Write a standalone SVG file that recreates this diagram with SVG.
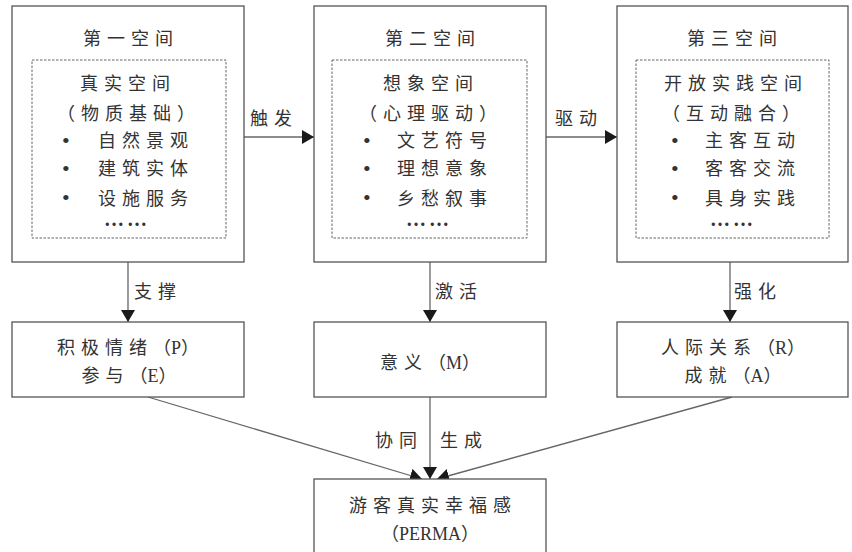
<svg xmlns="http://www.w3.org/2000/svg" width="852" height="552" viewBox="0 0 852 552">
<style>
text{font-family:"Liberation Serif","Noto Sans CJK SC",serif;font-size:18px;fill:#333;letter-spacing:6px}
.c{text-anchor:middle}
.n{letter-spacing:0}
.b{font-size:22px;letter-spacing:0}
.d{letter-spacing:3px;font-size:20px;font-weight:bold}
.box{fill:#fff;stroke:#555;stroke-width:1.3}
.dash{fill:none;stroke:#666;stroke-width:1;stroke-dasharray:2.5 1.5}
.ln{stroke:#666;stroke-width:1.3;fill:none}
</style>
<defs>
<marker id="ah" markerUnits="userSpaceOnUse" markerWidth="14" markerHeight="14" refX="12" refY="7" orient="auto">
<path d="M0,0 L12,7 L0,14 Z" fill="#1a1a1a"/>
</marker>
</defs>
<g id="connectors">
<line class="ln" x1="244" y1="137" x2="314" y2="137" marker-end="url(#ah)"/>
<line class="ln" x1="546" y1="137" x2="617" y2="137" marker-end="url(#ah)"/>
<line class="ln" x1="128" y1="262" x2="128" y2="322" marker-end="url(#ah)"/>
<line class="ln" x1="430" y1="262" x2="430" y2="322" marker-end="url(#ah)"/>
<line class="ln" x1="730" y1="262" x2="730" y2="322" marker-end="url(#ah)"/>
<line class="ln" x1="430" y1="397" x2="430" y2="479" marker-end="url(#ah)"/>
<line class="ln" x1="148" y1="397" x2="422" y2="479" marker-end="url(#ah)"/>
<line class="ln" x1="732" y1="397" x2="437" y2="479" marker-end="url(#ah)"/>
<text x="250" y="125">触发</text>
<text x="555" y="125">驱动</text>
<text x="134" y="298">支撑</text>
<text x="435" y="298">激活</text>
<text x="734" y="298">强化</text>
<text x="375" y="447">协同</text>
<text x="440" y="447">生成</text>
</g>
<g id="space1">
<rect class="box" x="12" y="6" width="232" height="256"/>
<rect class="dash" x="32" y="60" width="194" height="178"/>
<text class="c" x="131" y="45">第一空间</text>
<text class="c" x="128" y="90">真实空间</text>
<text class="c" x="129" y="120">（物质基础）</text>
<text class="b" x="62" y="148">•</text><text x="98" y="147">自然景观</text>
<text class="b" x="62" y="176">•</text><text x="98" y="175">建筑实体</text>
<text class="b" x="62" y="205">•</text><text x="98" y="205">设施服务</text>
<text class="c d" x="127" y="226">……</text>
</g>
<g id="space2">
<rect class="box" x="314" y="6" width="232" height="256"/>
<rect class="dash" x="332" y="60" width="195" height="178"/>
<text class="c" x="433" y="45">第二空间</text>
<text class="c" x="431" y="90">想象空间</text>
<text class="c" x="431" y="120">（心理驱动）</text>
<text class="b" x="363" y="148">•</text><text x="397" y="147">文艺符号</text>
<text class="b" x="363" y="176">•</text><text x="397" y="175">理想意象</text>
<text class="b" x="363" y="205">•</text><text x="397" y="205">乡愁叙事</text>
<text class="c d" x="429" y="226">……</text>
</g>
<g id="space3">
<rect class="box" x="617" y="6" width="231" height="256"/>
<rect class="dash" x="636" y="60" width="193" height="178"/>
<text class="c" x="735" y="45">第三空间</text>
<text class="c" x="736" y="90">开放实践空间</text>
<text class="c" x="734" y="120">（互动融合）</text>
<text class="b" x="671" y="148">•</text><text x="705" y="147">主客互动</text>
<text class="b" x="671" y="176">•</text><text x="705" y="175">客客交流</text>
<text class="b" x="671" y="205">•</text><text x="705" y="205">具身实践</text>
<text class="c d" x="733" y="226">……</text>
</g>
<g id="pe">
<rect class="box" x="12" y="322" width="232" height="75"/>
<text class="c" x="128" y="354">积极情绪<tspan class="n">（P）</tspan></text>
<text class="c" x="129" y="382">参与<tspan class="n">（E）</tspan></text>
</g>
<g id="m">
<rect class="box" x="314" y="322" width="232" height="75"/>
<text class="c" x="430" y="369">意义<tspan class="n">（M）</tspan></text>
</g>
<g id="ra">
<rect class="box" x="617" y="322" width="231" height="75"/>
<text class="c" x="733" y="354">人际关系<tspan class="n">（R）</tspan></text>
<text class="c" x="733" y="382">成就<tspan class="n">（A）</tspan></text>
</g>
<g id="perma">
<rect class="box" x="314" y="479" width="232" height="80"/>
<text class="c" x="433" y="512">游客真实幸福感</text>
<text class="c n" x="430" y="540">（PERMA）</text>
</g>
</svg>
